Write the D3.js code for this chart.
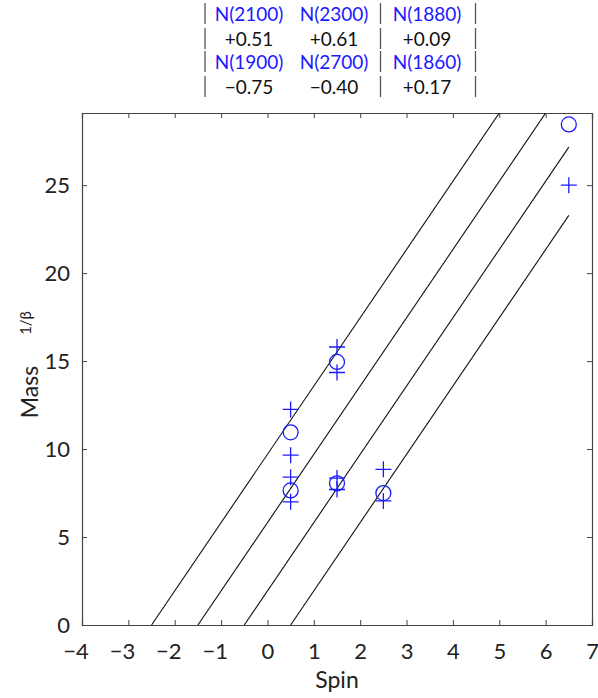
<!DOCTYPE html>
<html lang="en">
<head>
  <meta charset="utf-8">
  <title>spin vs mass</title>
  <style>
body {
  margin: 0;
  background-color: #fff;
  font-family: Lato, "Open Sans", sans-serif;
}
.tick text { font-size: 22px; fill: #222; }
.tbl { font-size: 19px; }
  </style>
  <script src="https://d3js.org/d3.v7.min.js" charset="utf-8"></script>
</head>
<body>
<section id="chart"></section>

<script>
// trajectory lines: spin where mass reaches 0, drawn up to spin 6.5
var lineStart = [-2.5, -1.5, -0.5, 0.5];
var lineEnd = [6.5, 6.5, 6.5, 6.5];
var slope = 3.88;

// circles
var circleSpin = [0.5, 0.5, 1.5, 1.5, 2.5, 6.5];
var circleMass = [7.65, 10.95, 14.95, 8.05, 7.5, 28.45];

// crosses
var crossSpin = [0.5, 0.5, 0.5, 0.5, 1.5, 1.5, 1.5, 1.5, 2.5, 2.5, 6.5];
var crossMass = [12.25, 9.65, 8.4, 7.0, 15.8, 14.35, 8.35, 7.7, 8.85, 7.05, 25.0];

var xTicks = [-4, -3, -2, -1, 0, 1, 2, 3, 4, 5, 6, 7];
var yTicks = [0, 5, 10, 15, 20, 25];

// table at the top
var tableRows = [
  { kind: 'name', cells: ['N(2100)', 'N(2300)', 'N(1880)'] },
  { kind: 'val', cells: ['+0.51', '+0.61', '+0.09'] },
  { kind: 'name', cells: ['N(1900)', 'N(2700)', 'N(1860)'] },
  { kind: 'val', cells: ['\u22120.75', '\u22120.40', '+0.17'] }
];
var tableCols = [249, 334, 427];
var tableBars = [205, 380.5, 475.5];

var w = 598, h = 698;
var margin = { left: 82, right: 6, top: 113, bottom: 73 };

var svg = d3.select('#chart').append('svg')
  .attr('width', w)
  .attr('height', h);

var x = d3.scaleLinear().domain([-4, 7]).range([margin.left, w - margin.right]);
var y = d3.scaleLinear().domain([0, 29.1]).range([h - margin.bottom, margin.top]);

var blue = '#1a1aff';

// clip for the lines
svg.append('clipPath').attr('id', 'plotclip')
  .append('rect')
  .attr('x', x(-4)).attr('y', y(29.1))
  .attr('width', x(7) - x(-4)).attr('height', y(0) - y(29.1));

// axes
var xAxis = d3.axisBottom(x).tickValues(xTicks).tickSize(-5).tickPadding(18)
  .tickFormat(function(d) { return d < 0 ? '\u2212' + Math.abs(d) : d; });
var yAxis = d3.axisLeft(y).tickValues(yTicks).tickSize(-5).tickPadding(12);

var gx = svg.append('g').attr('transform', 'translate(0,' + y(0) + ')').call(xAxis);
var gy = svg.append('g').attr('transform', 'translate(' + x(-4) + ',0)').call(yAxis);
svg.append('g').attr('transform', 'translate(0,' + y(29.1) + ')')
  .call(d3.axisTop(x).tickValues(xTicks).tickSize(-5).tickFormat(''));
svg.append('g').attr('transform', 'translate(' + x(7) + ',0)')
  .call(d3.axisRight(y).tickValues(yTicks).tickSize(-5).tickFormat(''));

svg.selectAll('.domain').attr('stroke', '#444').attr('stroke-width', 1.2);
svg.selectAll('.tick line').attr('stroke', '#444');
svg.selectAll('.tick text').attr('font-family', 'Lato, sans-serif');

// negative labels: keep the digit centred on the tick, minus hangs left
gx.selectAll('.tick text').each(function(d) {
  if (d < 0) {
    var full = this.getComputedTextLength();
    var t = d3.select(this);
    var probe = gx.append('text').attr('font-size', 22).attr('font-family', 'Lato, sans-serif')
      .text(String(Math.abs(d)));
    var digit = probe.node().getComputedTextLength();
    probe.remove();
    t.attr('x', -(full - digit) / 2);
  }
});

// axis labels
svg.append('text')
  .attr('x', x(1.5)).attr('y', 688)
  .attr('text-anchor', 'middle')
  .attr('font-size', 23).attr('fill', '#222')
  .text('Spin');

svg.append('text')
  .attr('transform', 'translate(38,392) rotate(-90)')
  .attr('text-anchor', 'middle')
  .attr('font-size', 23).attr('fill', '#222')
  .text('Mass');
svg.append('text')
  .attr('transform', 'translate(31,323) rotate(-90)')
  .attr('text-anchor', 'middle')
  .attr('font-size', 15).attr('fill', '#222')
  .text('1/\u03b2');

// lines
svg.append('g').attr('clip-path', 'url(#plotclip)')
  .selectAll('line.traj')
  .data(lineStart)
  .enter().append('line')
  .attr('class', 'traj')
  .attr('x1', function(d) { return x(d); })
  .attr('y1', y(0))
  .attr('x2', function(d, i) { return x(lineEnd[i]); })
  .attr('y2', function(d, i) { return y(slope * (lineEnd[i] - d)); })
  .attr('stroke', '#111')
  .attr('stroke-width', 1.1);

// circles
svg.selectAll('circle.pt')
  .data(circleSpin)
  .enter().append('circle')
  .attr('class', 'pt')
  .attr('cx', function(d) { return x(d); })
  .attr('cy', function(d, i) { return y(circleMass[i]); })
  .attr('r', 7.5)
  .attr('fill', 'none')
  .attr('stroke', blue)
  .attr('stroke-width', 1.3);

// crosses
svg.selectAll('path.cross')
  .data(crossSpin)
  .enter().append('path')
  .attr('class', 'cross')
  .attr('d', function(d, i) {
    var cx = x(d), cy = y(crossMass[i]), s = 8;
    return 'M' + (cx - s) + ',' + cy + 'H' + (cx + s) + 'M' + cx + ',' + (cy - s) + 'V' + (cy + s);
  })
  .attr('stroke', blue)
  .attr('stroke-width', 1.3)
  .attr('fill', 'none');

// table
var rowBase = [21, 46, 69, 94];
tableRows.forEach(function(row, r) {
  svg.selectAll('text.r' + r)
    .data(row.cells)
    .enter().append('text')
    .attr('class', 'tbl r' + r)
    .attr('x', function(d, i) { return tableCols[i]; })
    .attr('y', rowBase[r])
    .attr('text-anchor', 'middle')
    .attr('fill', row.kind === 'name' ? blue : '#111')
    .text(function(d) { return d; });
  svg.selectAll('line.b' + r)
    .data(tableBars)
    .enter().append('line')
    .attr('class', 'b' + r)
    .attr('x1', function(d) { return d; })
    .attr('x2', function(d) { return d; })
    .attr('y1', rowBase[r] - 18)
    .attr('y2', rowBase[r] + 3)
    .attr('stroke', '#555')
    .attr('stroke-width', 1.3);
});
</script>
</body>
</html>
